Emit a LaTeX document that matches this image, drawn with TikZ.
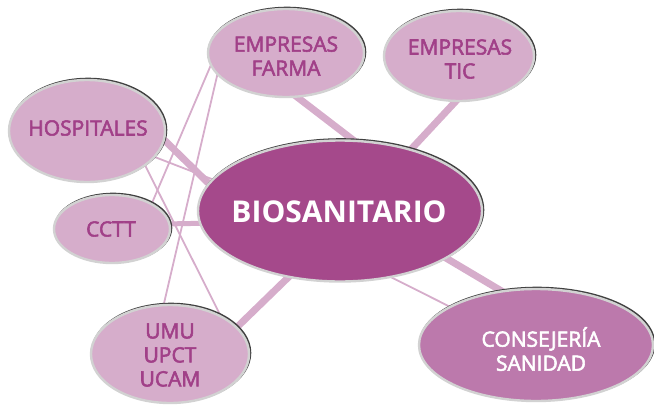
\documentclass[tikz,border=0pt]{standalone}
\usepackage{fontspec}
\setmainfont{Open Sans}[BoldFont={Open Sans}, BoldFeatures={FakeBold=2.6}]
\newfontfamily\negrita{Open Sans Bold}
\usetikzlibrary{shapes.geometric,backgrounds}
\definecolor{rosa}{HTML}{D6ADCB}
\definecolor{malva}{HTML}{A5498B}
\definecolor{malvaclara}{HTML}{BC79AC}
\definecolor{letra}{HTML}{A14088}

\begin{document}
\begin{tikzpicture}[x=1pt,y=-1pt,
    burbuja/.style={ellipse, inner sep=0pt, fill=rosa, draw=gray!35, line width=2.4pt,
        preaction={draw=black!75, line width=2.4pt, transform canvas={shift={(1.1pt,1.1pt)}}}},
    rotulo/.style={align=center, text=letra, font=\fontsize{21}{24}\bfseries\selectfont},
    grueso/.style={draw=rosa, line width=7pt, shorten <=-4pt, shorten >=-4pt},
    fino/.style={draw=rosa, line width=1.8pt, shorten <=-2pt, shorten >=-2pt}]
    \useasboundingbox (0,0) rectangle (654,405);

    \node[burbuja, minimum width=156, minimum height=88] (farma) at (286,53) {};
    \node[burbuja, minimum width=150, minimum height=90] (tic) at (459,56) {};
    \node[burbuja, minimum width=156, minimum height=102] (hosp) at (87,131) {};
    \node[burbuja, minimum width=116, minimum height=68] (cctt) at (112,229) {};
    \node[burbuja, minimum width=158, minimum height=98] (umu) at (170,354) {};
    \node[burbuja, fill=malva, minimum width=284, minimum height=141] (bio) at (340,211) {};
    \node[burbuja, fill=malvaclara, minimum width=234, minimum height=112] (cons) at (536,345) {};

    \node[rotulo] (tfarma) at (286,56) {EMPRESAS\\FARMA};
    \node[rotulo] (ttic) at (460,59) {EMPRESAS\\TIC};
    \node[rotulo] (thosp) at (88,128) {HOSPITALES};
    \node[rotulo] (tcctt) at (111,229) {CCTT};
    \node[rotulo] (tumu) at (170,355) {UMU\\UPCT\\UCAM};
    \node[rotulo, text=white, font=\fontsize{30}{34}\negrita] (tbio) at (339,212) {BIOSANITARIO};
    \node[rotulo, text=white] (tcons) at (541,349) {CONSEJERÍA\\SANIDAD};

    \begin{scope}[on background layer]
    \draw[grueso] (farma.285)--(bio.80);
    \draw[grueso] (tic.265)--(bio.41);
    \draw[grueso] (hosp.353)--(bio.168);
    \draw[grueso, line width=5pt] (cctt.5)--(bio.185);
    \draw[grueso] (umu.22)--(bio.232);
    \draw[grueso] (bio.336)--(cons.123);

    \draw[fino] (bio.308)--(cons.156);
    \draw[fino] (farma.190)--(cctt.33);
    \draw[fino] (farma.198)--(umu.97);
    \draw[fino] (hosp.339)--(bio.166);
    \draw[fino] (hosp.329)--(umu.38);
    \end{scope}
\end{tikzpicture}
\end{document}
